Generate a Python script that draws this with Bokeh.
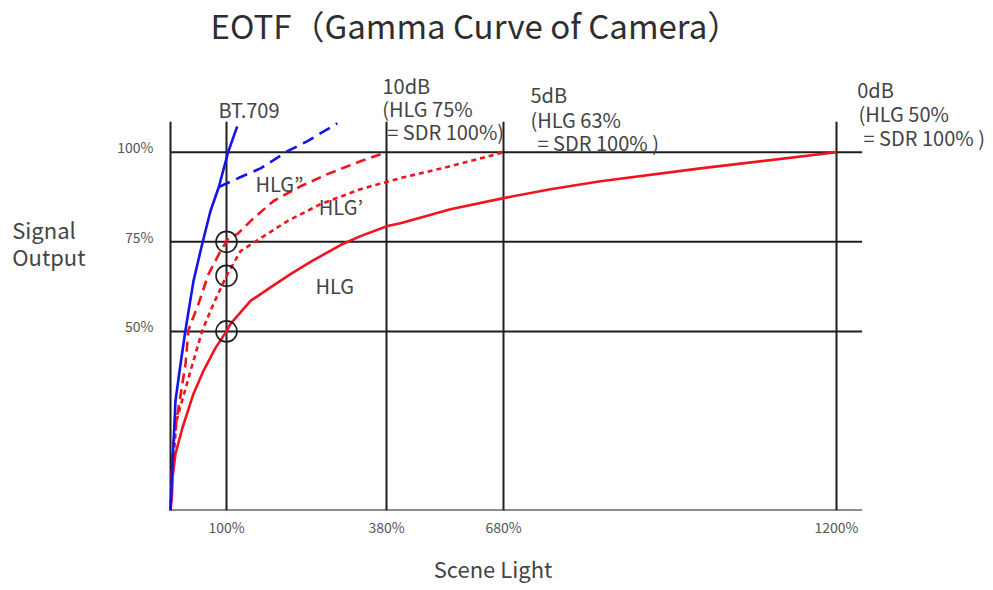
import numpy as np
from bokeh.plotting import figure
from bokeh.models import Range1d, FixedTicker
from bokeh.core.properties import value
from bokeh.embed import file_html
from bokeh.resources import INLINE

# ---------------- data ----------------
# schematic scene-light axis: tick values (%) and their relative positions
scene_ticks = [0, 100, 380, 680, 1200]
scene_tick_pos = [0, 56, 216, 333, 666]
scene_end = 1240          # right end of the horizontal reference lines (%)
signal_ticks = [50, 75, 100]
ref_top = 108.5           # top of the vertical reference lines (signal %)

bt709_x = [0, 3.6, 5.4, 8.9, 17.9, 26.8, 41.1, 56.6, 71.4, 86.3, 103, 118.7]
bt709_y = [0, 13.9, 18.7, 30.6, 40.9, 50.4, 64.1, 74.4, 83.6, 90.3, 100.1, 107.2]

bt709k_x = [86.3, 121, 159.5, 206.8, 241.8, 294]
bt709k_y = [90.3, 92.8, 95.5, 100.3, 103.1, 108.1]

hlg2_x = [0, 3.6, 10.7, 26.8, 32.1, 50, 67.9, 89.3, 103.5, 119.3, 147.3, 182.3, 229.5, 276.8, 334.5, 380]
hlg2_y = [0, 16.7, 25.1, 40.9, 50.4, 57.7, 66.0, 72.4, 76.0, 77.2, 81.6, 86.4, 90.5, 93.9, 97.5, 100]

hlg1_x = [0, 3.6, 10.7, 39.3, 57.1, 76.8, 100, 124.5, 159.5, 206.8, 264.5, 334.5, 415.9, 544.1, 680]
hlg1_y = [0, 11.1, 25.1, 40.9, 50.4, 57.7, 65.5, 72.4, 76.0, 80.8, 85.5, 89.7, 92.8, 96.1, 100]

hlg_x = [0, 2.7, 3.6, 8.9, 21.4, 41.1, 58.9, 80.4, 100, 107, 142, 177, 212, 247, 299.5,
         334.5, 382.6, 415.9, 544.1, 680, 753.4, 831.5, 987.6, 1200]
hlg_y = [0, 4.2, 9.2, 15.9, 23.1, 32.6, 39.0, 45.4, 50, 52.1, 58.5, 62.3, 66.0, 69.4, 74.1,
         76.6, 79.4, 80.2, 84.1, 87.2, 89.7, 91.9, 95.5, 100]

mark_x = [100, 100, 100]
mark_y = [50, 65.5, 75]

# annotation texts (anchor: left edge, vertical middle, in axis units)
ann_text = ["BT.709",
            "10dB", "(HLG 75%", "= SDR 100%)",
            "5dB", "(HLG 63%", "= SDR 100% )",
            "0dB", "(HLG 50%", "= SDR 100% )"]
ann_px = [48, 212, 211.7, 216.7, 360, 360, 367, 686.7, 688, 693]
ann_py = [111.9, 118.7, 112.3, 105.8, 116.1, 109.1, 102.6, 117.5, 110.9, 104.0]

curve_text = ["HLG\u201d", "HLG\u2019", "HLG"]
curve_px = [85, 148.3, 145]
curve_py = [91.4, 85.0, 62.7]

ylabel_lines = ["Signal", "Output"]
ylabel_px = [-158.3, -158.3]
ylabel_py = [78.6, 71.0]


def xpos(v):
    v = np.atleast_1d(np.asarray(v, dtype=float))
    p = np.interp(v, scene_ticks, scene_tick_pos)
    slope = (scene_tick_pos[-1] - scene_tick_pos[-2]) / (scene_ticks[-1] - scene_ticks[-2])
    hi = v > scene_ticks[-1]
    p[hi] = scene_tick_pos[-1] + (v[hi] - scene_ticks[-1]) * slope
    return p


FONT = "Noto Sans CJK JP"
INK = "#1e1e1e"
TXT = "#444444"
TICK = "#555555"
RED = "#f0141e"
BLUE = "#1414e6"

p = figure(width=985, height=588, output_backend="svg", toolbar_location=None,
           x_range=Range1d(-170, 815), y_range=Range1d(0, 128.13),
           min_border_left=0, min_border_right=0, min_border_top=50,
           min_border_bottom=78, outline_line_color=None)
p.grid.visible = False
p.yaxis.visible = False

p.title.text = "EOTF\uff08Gamma Curve of Camera\uff09"
p.title.text_font = FONT
p.title.text_font_size = "33px"
p.title.text_font_style = "normal"
p.title.text_color = "#2e2e2e"
p.title.align = "left"
p.title.offset = 210
p.title.vertical_align = "top"
p.title.standoff = 1

# x axis (schematic scene-light scale)
xa = p.xaxis[0]
xa.ticker = FixedTicker(ticks=list(xpos(scene_ticks[1:])))
xa.major_label_overrides = {float(xpos(t)[0]): f"{t}%" for t in scene_ticks[1:]}
xa.axis_line_color = None
xa.major_tick_line_color = None
xa.minor_tick_line_color = None
xa.major_label_standoff = 0
xa.major_label_text_font = FONT
xa.major_label_text_font_size = "14px"
xa.major_label_text_color = TICK
xa.axis_label = "Scene Light"
xa.axis_label_text_font = FONT
xa.axis_label_text_font_size = "22px"
xa.axis_label_text_font_style = "normal"
xa.axis_label_text_color = TXT
xa.axis_label_standoff = 12

# reference lines
vx = xpos([0] + scene_ticks[1:])
p.segment(x0=vx, y0=[0] * len(vx), x1=vx, y1=[ref_top] * len(vx),
          line_color=INK, line_width=2)
hy = [0] + signal_ticks
p.segment(x0=[0] * len(hy), y0=hy, x1=list(xpos([scene_end] * len(hy))), y1=hy,
          line_color=INK, line_width=2)

# curves
p.line(xpos(hlg_x), hlg_y, line_color=RED, line_width=2.6)
p.line(xpos(hlg1_x), hlg1_y, line_color=RED, line_width=2.6, line_dash="5 4")
p.line(xpos(hlg2_x), hlg2_y, line_color=RED, line_width=2.6, line_dash="10 6")
p.line(xpos(bt709_x), bt709_y, line_color=BLUE, line_width=2.6)
p.line(xpos(bt709k_x), bt709k_y, line_color=BLUE, line_width=2.6, line_dash="12 7")

p.scatter(xpos(mark_x), mark_y, size=21, marker="circle", fill_color=None,
          line_color=INK, line_width=1.6)

# signal tick labels
p.text(x=[-17] * len(signal_ticks), y=signal_ticks, text=[f"{t}%" for t in signal_ticks],
       y_offset=-5, text_font=value(FONT), text_font_size="14px", text_color=TICK,
       text_align="right", text_baseline="middle")

# signal axis title
p.text(x=ylabel_px, y=ylabel_py, text=ylabel_lines, text_font=value(FONT),
       text_font_size="22px", text_color=TXT, text_align="left", text_baseline="middle")

# annotations
p.text(x=ann_px, y=ann_py, text=ann_text, text_font=value(FONT),
       text_font_size="20px", text_color=TXT, text_align="left", text_baseline="middle")
p.text(x=curve_px, y=curve_py, text=curve_text, text_font=value(FONT),
       text_font_size="20px", text_color=TXT, text_align="left", text_baseline="middle")

open("out.html", "w").write(file_html(p, INLINE))
